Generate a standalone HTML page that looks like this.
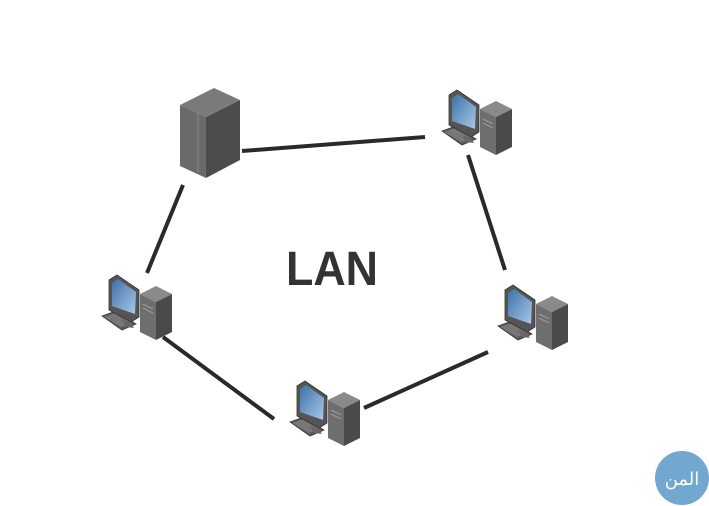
<!DOCTYPE html>
<html><head><meta charset="utf-8"><style>html,body{margin:0;padding:0;background:#fff}svg{display:block}</style></head>
<body>
<svg width="709" height="506" viewBox="0 0 709 506" xmlns="http://www.w3.org/2000/svg">
<defs>
<linearGradient id="scr" x1="0" y1="0" x2="1" y2="1"><stop offset="0" stop-color="#3d6fa8"/><stop offset="1" stop-color="#a9c9e8"/></linearGradient>
<g id="pc">
  <polygon points="10,44 24,39 44,52 30,58" fill="#5a5a5a" stroke="#3a3a3a" stroke-width="0.8"/>
  <polygon points="12,45 24,41 40,51 29,55" fill="#777"/>
  <polygon points="17,8 25,3 47,18 47,45 39,50 17,38" fill="#555" stroke="#333" stroke-width="0.8"/>
  <polygon points="20,11 26,7 44,20 43,42 20,34" fill="url(#scr)"/>
  <polygon points="30,48 38,50 42,56 34,55" fill="#666"/>
  <polygon points="48,22 64,14 80,22 64,30" fill="#8a8a8a"/>
  <polygon points="48,22 64,30 64,68 48,60" fill="#6e6e6e"/>
  <polygon points="64,30 80,22 80,60 64,68" fill="#4a4a4a"/>
  <line x1="51" y1="32" x2="61" y2="37" stroke="#aaa" stroke-width="0.8"/>
  <line x1="51" y1="36" x2="61" y2="41" stroke="#aaa" stroke-width="0.8"/>
</g>
</defs>
<g stroke="#2a2a2a" stroke-width="4" stroke-linecap="butt">
  <line x1="242" y1="151" x2="425" y2="137"/>
  <line x1="183" y1="185" x2="147" y2="273"/>
  <line x1="468" y1="155" x2="505" y2="270"/>
  <line x1="163" y1="337" x2="274" y2="419"/>
  <line x1="364" y1="408" x2="488" y2="352"/>
</g>
<!-- server -->
<polygon points="180,105 214,88 240,100 206,117" fill="#7a7a7a"/>
<polygon points="180,105 206,117 206,178 180,166" fill="#6a6a6a"/>
<polygon points="206,117 240,100 240,160 206,178" fill="#4c4c4c"/>
<line x1="198" y1="113" x2="198" y2="172" stroke="#888" stroke-width="1"/>
<use href="#pc" x="432" y="87"/>
<use href="#pc" x="92" y="272"/>
<use href="#pc" x="488" y="282"/>
<use href="#pc" x="280" y="378"/>
<text x="286" y="285" font-family="Liberation Sans, sans-serif" font-weight="bold" font-size="48" fill="#333" textLength="92" lengthAdjust="spacingAndGlyphs">LAN</text>
<circle cx="682" cy="478" r="27" fill="#72a8d0"/>
<text x="682" y="485" text-anchor="middle" font-family="DejaVu Sans, sans-serif" font-size="18" fill="#fff">المن</text>
</svg>
</body></html>
